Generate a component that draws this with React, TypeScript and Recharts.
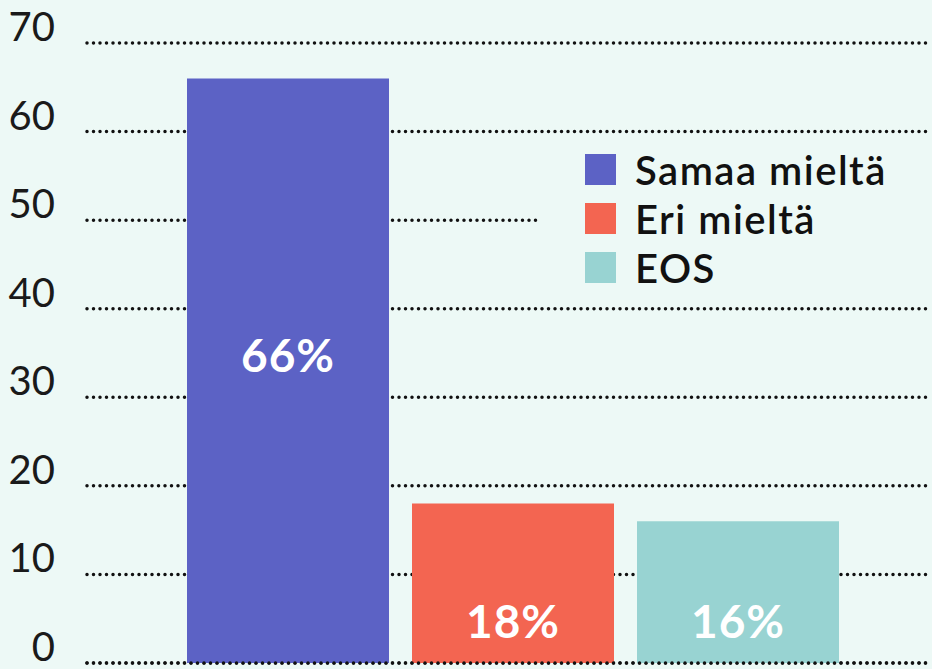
import { BarChart, Bar, XAxis, YAxis, CartesianGrid, Cell, LabelList, ReferenceLine } from "recharts";

const categories = ["Samaa mieltä", "Eri mieltä", "EOS"];
const values = [66, 18, 16];
const valueLabels = ["66%", "18%", "16%"];
const yTicks = [0, 10, 20, 30, 40, 50, 60, 70];
const colors = ["#5c62c5", "#f36551", "#98d3d2"];

const data = categories.map((name, i) => ({ name, value: values[i], label: valueLabels[i] }));

const BG = "#edf9f6";

function YTick(props: any) {
  const { y, payload } = props;
  return (
    <text x={55} y={y - 2} textAnchor="end" fontSize={40} fontFamily="Lato, sans-serif" fill="#1a1a1a">
      {payload.value}
    </text>
  );
}

function BarLabel(props: any) {
  const { x, y, width, height, value } = props;
  // tall bar: label a bit above the middle; short bars: near the bottom
  const cy = height > 200 ? y + height * 0.473 : y + height - 43;
  return (
    <text
      x={x + width / 2}
      y={cy}
      textAnchor="middle"
      dominantBaseline="central"
      fill="#fff"
      fontSize={46}
      fontWeight={700}
      letterSpacing={1}
      fontFamily="Lato, sans-serif"
    >
      {value}
    </text>
  );
}

function LegendBox() {
  return (
    <div
      style={{
        position: "absolute",
        left: 540,
        top: 140,
        width: 392,
        height: 160,
        background: BG,
        padding: "5px 0 0 45px",
        boxSizing: "border-box",
      }}
    >
      {categories.map((c, i) => (
        <div key={c} style={{ display: "flex", alignItems: "center", height: 49 }}>
          <span style={{ width: 31, height: 31, background: colors[i], display: "inline-block", marginRight: 19 }} />
          <span
            style={{
              fontFamily: "Lato, sans-serif",
              fontSize: 40,
              fontWeight: 600,
              letterSpacing: 1.5,
              color: "#111",
              lineHeight: 1,
            }}
          >
            {c}
          </span>
        </div>
      ))}
    </div>
  );
}

export default function App() {
  return (
    <div style={{ position: "absolute", left: 0, top: 0, width: 932, height: 669, overflow: "hidden", background: BG }}>
      <BarChart width={932} height={669} data={data} margin={{ top: 43, right: 0, bottom: 6, left: 0 }}>
        <CartesianGrid
          vertical={false}
          stroke="#111"
          strokeWidth={3.5}
          strokeDasharray="0 6.5"
          strokeLinecap="round"
        />
        <XAxis dataKey="name" hide padding={{ left: 88, right: 82 }} />
        <YAxis
          width={87}
          domain={[0, 70]}
          ticks={yTicks}
          axisLine={false}
          tickLine={false}
          tick={<YTick />}
          interval={0}
        />
        <Bar dataKey="value" barSize={202} isAnimationActive={false}>
          {data.map((d, i) => (
            <Cell key={d.name} fill={colors[i]} />
          ))}
          <LabelList dataKey="label" content={<BarLabel />} />
        </Bar>
        <ReferenceLine y={0} stroke="#111" strokeWidth={3.5} strokeDasharray="0 6.5" strokeLinecap="round" />
      </BarChart>
      <LegendBox />
    </div>
  );
}
